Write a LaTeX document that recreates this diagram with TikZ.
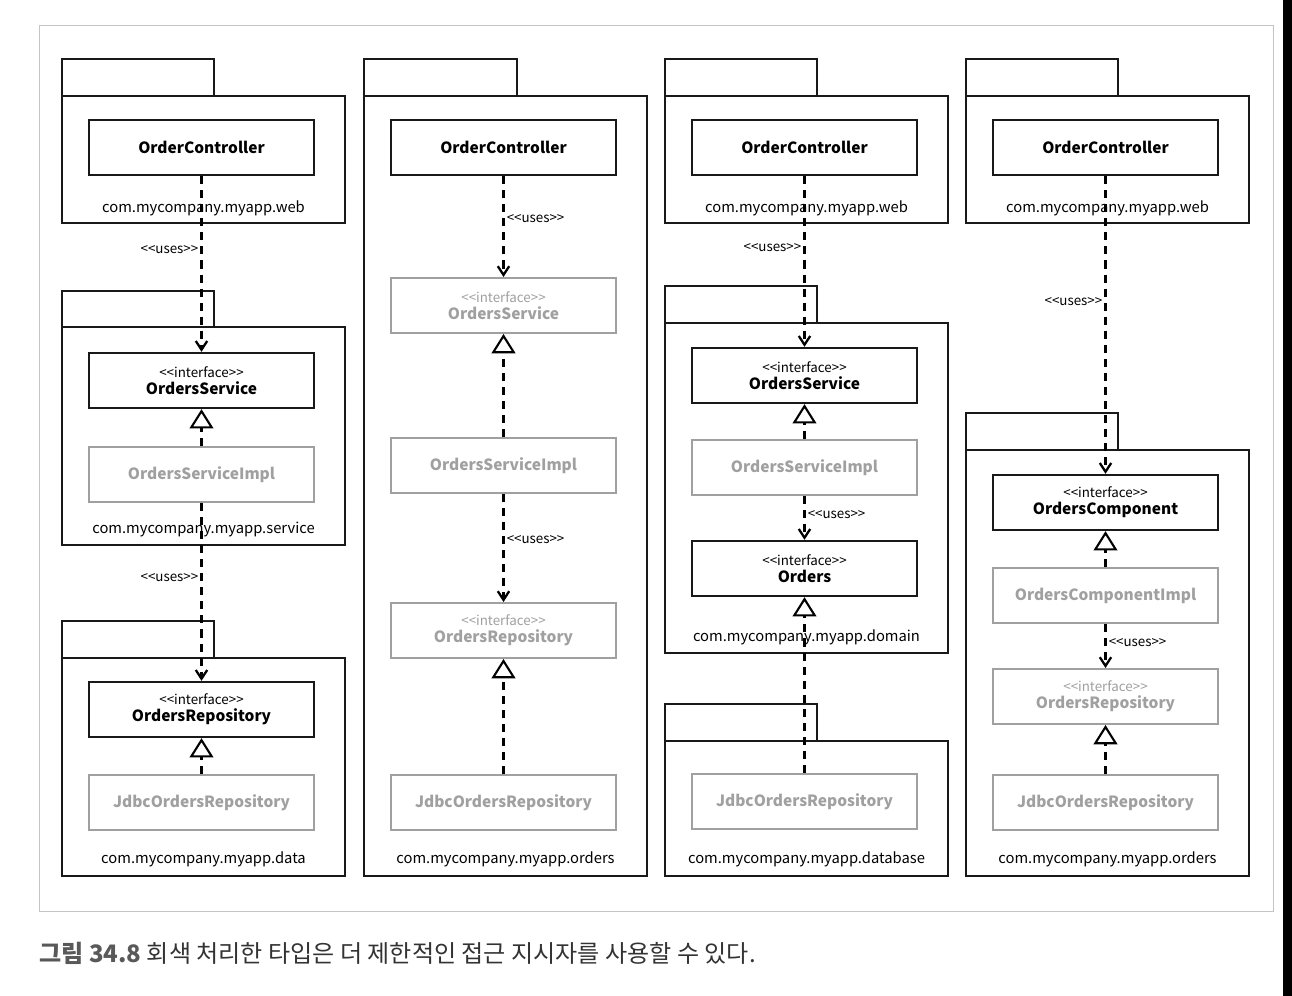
\documentclass[tikz,border=0pt]{standalone}
\usepackage{fontspec}
\setmainfont{Noto Sans CJK KR}[Ligatures=TeXOff]
\usetikzlibrary{arrows.meta}
\definecolor{greyed}{HTML}{A0A0A0}
\definecolor{framegrey}{HTML}{C4C4C4}
\begin{document}
\begin{tikzpicture}[x=0.02cm, y=-0.02cm,
    pkg/.style={line width=1.6pt, draw=black!90},
    cls/.style={draw=black!90, fill=white, line width=1.3pt, minimum width=4.5cm,
        minimum height=1.1cm, inner sep=0pt, align=center,
        font=\fontsize{8.8}{9.6}\selectfont},
    hidden/.style={cls, draw=greyed, text=greyed, line width=1.1pt},
    uses/.style={line width=1.3pt, dash pattern=on 4.6pt off 3.4pt,
        -{Straight Barb[length=5pt, width=6.5pt]}},
    impl/.style={line width=1.3pt, dash pattern=on 4.6pt off 3.4pt,
        -{Triangle[open, length=11pt, width=13.5pt, fill=white, line width=1.2pt]}},
    lbl/.style={font=\fontsize{7.6}{8}\selectfont, inner sep=1.2pt, pos=0.42},
    pkglbl/.style={font=\fontsize{8.4}{9}\selectfont}
]
    \useasboundingbox (0,0) rectangle (1292,996);

    % Cornice
    \draw[framegrey, fill=white] (39,25) rectangle (1273,911);
    \fill (1283,0) rectangle (1292,996);

    % Colonna 1
    \draw[pkg] (62,59) rectangle (214,96);
    \draw[pkg] (62,96) rectangle (345,223);
    \draw[pkg] (62,291) rectangle (214,327);
    \draw[pkg] (62,327) rectangle (345,545);
    \draw[pkg] (62,621) rectangle (214,658);
    \draw[pkg] (62,658) rectangle (345,876);

    \node[pkglbl] (webA) at (203.5,208) {com.mycompany.myapp.web};
    \node[pkglbl] (serviceA) at (203.5,530) {com.mycompany.myapp.service};
    \node[pkglbl] (dataA) at (203.5,859) {com.mycompany.myapp.data};

    \node[cls] (ctlA) at (201.5,147.5) {\textbf{OrderController}};
    \node[cls] (svcA) at (201.5,380.5) {
        {\fontsize{7.6}{9.6}\selectfont \textless\textless interface\textgreater\textgreater}\\
        \textbf{OrdersService}
    };
    \node[hidden] (svcimplA) at (201.5,474.5) {\textbf{OrdersServiceImpl}};
    \node[cls] (repoA) at (201.5,709.5) {
        {\fontsize{7.6}{9.6}\selectfont \textless\textless interface\textgreater\textgreater}\\
        \textbf{OrdersRepository}
    };
    \node[hidden] (jdbcA) at (201.5,802.5) {\textbf{JdbcOrdersRepository}};

    \draw[uses] (ctlA) -- node[lbl, left] {\textless\textless uses\textgreater\textgreater} (svcA);
    \draw[impl] (svcimplA) -- (svcA);
    \draw[uses] (svcimplA) -- node[lbl, left] {\textless\textless uses\textgreater\textgreater} (repoA);
    \draw[impl] (jdbcA) -- (repoA);

    % Colonna 2
    \draw[pkg] (364,59) rectangle (517,96);
    \draw[pkg] (364,96) rectangle (647,876);

    \node[pkglbl] (ordersB) at (505.5,859) {com.mycompany.myapp.orders};

    \node[cls] (ctlB) at (503.5,147.5) {\textbf{OrderController}};
    \node[hidden] (svcB) at (503.5,305.5) {
        {\fontsize{7.6}{9.6}\selectfont \textless\textless interface\textgreater\textgreater}\\
        \textbf{OrdersService}
    };
    \node[hidden] (svcimplB) at (503.5,465.5) {\textbf{OrdersServiceImpl}};
    \node[hidden] (repoB) at (503.5,630.5) {
        {\fontsize{7.6}{9.6}\selectfont \textless\textless interface\textgreater\textgreater}\\
        \textbf{OrdersRepository}
    };
    \node[hidden] (jdbcB) at (503.5,802.5) {\textbf{JdbcOrdersRepository}};

    \draw[uses] (ctlB) -- node[lbl, right] {\textless\textless uses\textgreater\textgreater} (svcB);
    \draw[impl] (svcimplB) -- (svcB);
    \draw[uses] (svcimplB) -- node[lbl, right] {\textless\textless uses\textgreater\textgreater} (repoB);
    \draw[impl] (jdbcB) -- (repoB);

    % Colonna 3
    \draw[pkg] (665,59) rectangle (817,96);
    \draw[pkg] (665,96) rectangle (948,223);
    \draw[pkg] (665,286) rectangle (817,323);
    \draw[pkg] (665,323) rectangle (948,653);
    \draw[pkg] (665,704) rectangle (817,741);
    \draw[pkg] (665,741) rectangle (948,876);

    \node[pkglbl] (webC) at (806.5,208) {com.mycompany.myapp.web};
    \node[pkglbl] (domainC) at (806.5,637) {com.mycompany.myapp.domain};
    \node[pkglbl] (databaseC) at (806.5,859) {com.mycompany.myapp.database};

    \node[cls] (ctlC) at (804.5,147.5) {\textbf{OrderController}};
    \node[cls] (svcC) at (804.5,375.5) {
        {\fontsize{7.6}{9.6}\selectfont \textless\textless interface\textgreater\textgreater}\\
        \textbf{OrdersService}
    };
    \node[hidden] (svcimplC) at (804.5,467.5) {\textbf{OrdersServiceImpl}};
    \node[cls] (ordersC) at (804.5,568.5) {
        {\fontsize{7.6}{9.6}\selectfont \textless\textless interface\textgreater\textgreater}\\
        \textbf{Orders}
    };
    \node[hidden] (jdbcC) at (804.5,801.5) {\textbf{JdbcOrdersRepository}};

    \draw[uses] (ctlC) -- node[lbl, left] {\textless\textless uses\textgreater\textgreater} (svcC);
    \draw[impl] (svcimplC) -- (svcC);
    \draw[uses] (svcimplC) -- node[lbl, right] {\textless\textless uses\textgreater\textgreater} (ordersC);
    \draw[impl] (jdbcC) -- (ordersC);

    % Colonna 4
    \draw[pkg] (966,59) rectangle (1118,96);
    \draw[pkg] (966,96) rectangle (1249,223);
    \draw[pkg] (966,413) rectangle (1118,450);
    \draw[pkg] (966,450) rectangle (1249,876);

    \node[pkglbl] (webD) at (1107.5,208) {com.mycompany.myapp.web};
    \node[pkglbl] (ordersD) at (1107.5,859) {com.mycompany.myapp.orders};

    \node[cls] (ctlD) at (1105.5,147.5) {\textbf{OrderController}};
    \node[cls] (compD) at (1105.5,502.5) {
        {\fontsize{7.6}{9.6}\selectfont \textless\textless interface\textgreater\textgreater}\\
        \textbf{OrdersComponent}
    };
    \node[hidden] (compimplD) at (1105.5,595.5) {\textbf{OrdersComponentImpl}};
    \node[hidden] (repoD) at (1105.5,696.5) {
        {\fontsize{7.6}{9.6}\selectfont \textless\textless interface\textgreater\textgreater}\\
        \textbf{OrdersRepository}
    };
    \node[hidden] (jdbcD) at (1105.5,802.5) {\textbf{JdbcOrdersRepository}};

    \draw[uses] (ctlD) -- node[lbl, left] {\textless\textless uses\textgreater\textgreater} (compD);
    \draw[impl] (compimplD) -- (compD);
    \draw[uses] (compimplD) -- node[lbl, right] {\textless\textless uses\textgreater\textgreater} (repoD);
    \draw[impl] (jdbcD) -- (repoD);

    % Didascalia
    \node[anchor=west, inner sep=0pt, font=\fontsize{13.7}{15}\selectfont, text=black!80] (caption) at (39,953)
        {\textcolor{black!65}{\textbf{그림 34.8}} 회색 처리한 타입은 더 제한적인 접근 지시자를 사용할 수 있다.};
\end{tikzpicture}
\end{document}
